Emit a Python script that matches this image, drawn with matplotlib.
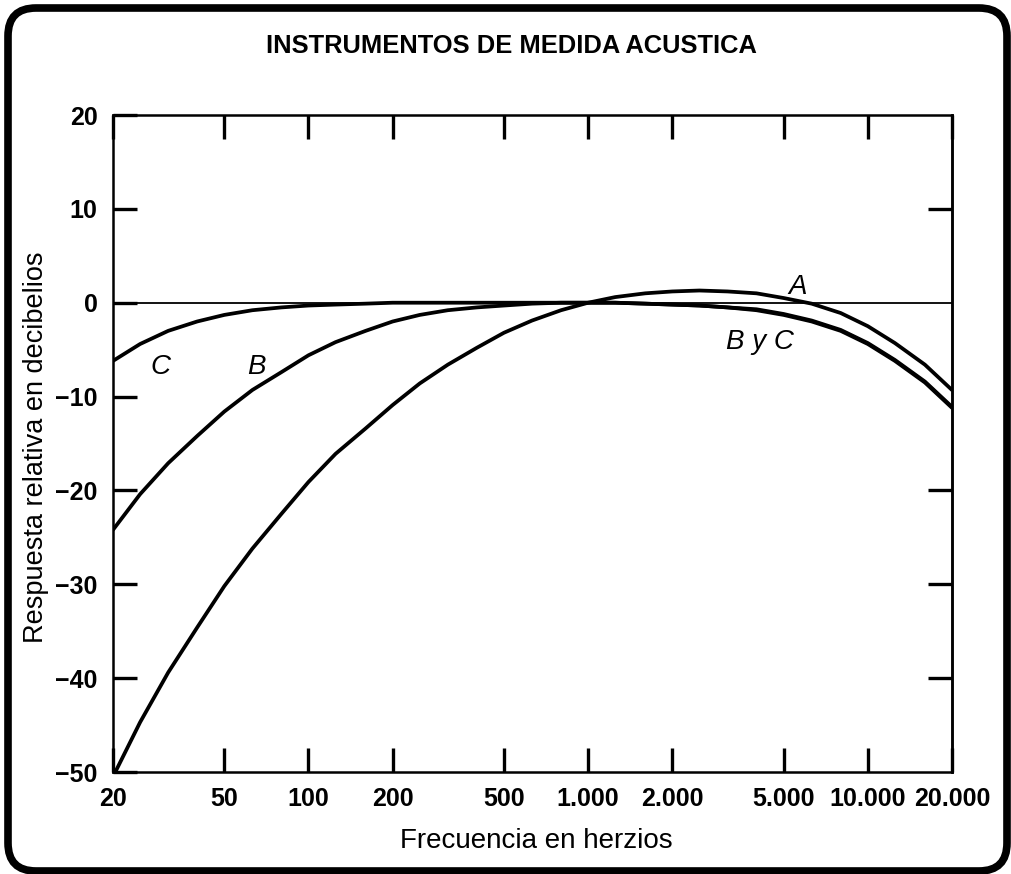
import matplotlib
matplotlib.use('Agg')
import matplotlib.pyplot as plt
from matplotlib.patches import FancyBboxPatch
from matplotlib.transforms import IdentityTransform

plt.rcParams['font.family'] = ['Liberation Sans', 'DejaVu Sans']

# Frequencies (Hz) and relative response (dB) of the A, B and C curves
freq = [20, 25, 31.5, 40, 50, 63, 80, 100, 125, 160, 200, 250, 315, 400, 500,
        630, 800, 1000, 1250, 1600, 2000, 2500, 3150, 4000, 5000, 6300, 8000,
        10000, 12500, 16000, 20000]
curve_a = [-50.5, -44.7, -39.4, -34.6, -30.2, -26.2, -22.5, -19.1, -16.1,
           -13.4, -10.9, -8.6, -6.6, -4.8, -3.2, -1.9, -0.8, 0.0, 0.6, 1.0,
           1.2, 1.3, 1.2, 1.0, 0.5, -0.1, -1.1, -2.5, -4.3, -6.6, -9.3]
curve_b = [-24.2, -20.4, -17.1, -14.2, -11.6, -9.3, -7.4, -5.6, -4.2, -3.0,
           -2.0, -1.3, -0.8, -0.5, -0.3, -0.1, 0.0, 0.0, 0.0, -0.1, -0.2,
           -0.3, -0.5, -0.7, -1.2, -1.9, -2.9, -4.3, -6.1, -8.4, -11.1]
curve_c = [-6.2, -4.4, -3.0, -2.0, -1.3, -0.8, -0.5, -0.3, -0.2, -0.1, 0.0,
           0.0, 0.0, 0.0, 0.0, 0.0, 0.0, 0.0, 0.0, -0.1, -0.2, -0.3, -0.5,
           -0.8, -1.3, -2.0, -3.0, -4.4, -6.2, -8.5, -11.2]

xticks = [20, 50, 100, 200, 500, 1000, 2000, 5000, 10000, 20000]
xtick_labels = ['20', '50', '100', '200', '500', '1.000', '2.000', '5.000',
                '10.000', '20.000']
yticks = [20, 10, 0, -10, -20, -30, -40, -50]
right_ticks = [10, -20, -30, -40]

# curve labels: (text, freq, dB)
labels = [('C', 29.5, -6.8), ('B', 65, -6.9), ('A', 5600, 1.7),
          ('B y C', 4100, -4.2)]

fig = plt.figure(figsize=(10.11, 8.74), dpi=100)
ax = fig.add_axes([113 / 1011, 1 - 772 / 874, 839 / 1011, 657 / 874])

ax.plot([freq[0], freq[-1]], [0, 0], color='black', lw=1.3)
for y in (curve_a, curve_b, curve_c):
    ax.plot(freq, y, color='black', lw=2.7, solid_capstyle='round',
            solid_joinstyle='round')

ax.set_xscale('log')
ax.set_xlim(20, 20000)
ax.set_ylim(-50, 20)
ax.set_xticks(xticks)
ax.set_xticklabels(xtick_labels)
ax.minorticks_off()
ax.set_yticks(yticks)

ax.tick_params(axis='both', direction='in', length=17, width=2.4, pad=11,
               labelsize=18)
ax.tick_params(axis='x', top=True)
for lab in ax.get_xticklabels() + ax.get_yticklabels():
    lab.set_fontweight('bold')

sec = ax.secondary_yaxis('right')
sec.set_yticks(right_ticks)
sec.tick_params(direction='in', length=17, width=2.4, labelright=False)
sec.spines['right'].set_linewidth(1.8)

for sp in ax.spines.values():
    sp.set_linewidth(1.8)

for txt, fx, fy in labels:
    ax.text(fx, fy, txt, ha='center', va='center', fontsize=20,
            style='italic')

ax.set_xlabel('Frecuencia en herzios', fontsize=20)
ax.xaxis.set_label_coords(0.504, -0.105)
ax.xaxis.label.set_verticalalignment('center')
ax.set_ylabel('Respuesta relativa en decibelios', fontsize=19.5)
ax.yaxis.set_label_coords(-0.092, 0.495)
ax.yaxis.label.set_verticalalignment('center')

fig.text(511 / 1011, 1 - 46 / 874, 'INSTRUMENTOS DE MEDIDA ACUSTICA',
         ha='center', va='center', fontsize=18.4, fontweight='bold')

frame = FancyBboxPatch((8, 3), 999, 863,
                       boxstyle='round,pad=0,rounding_size=28',
                       transform=IdentityTransform(), fill=False,
                       ec='black', lw=5.5)
fig.add_artist(frame)

fig.savefig('out.png', dpi=100)
